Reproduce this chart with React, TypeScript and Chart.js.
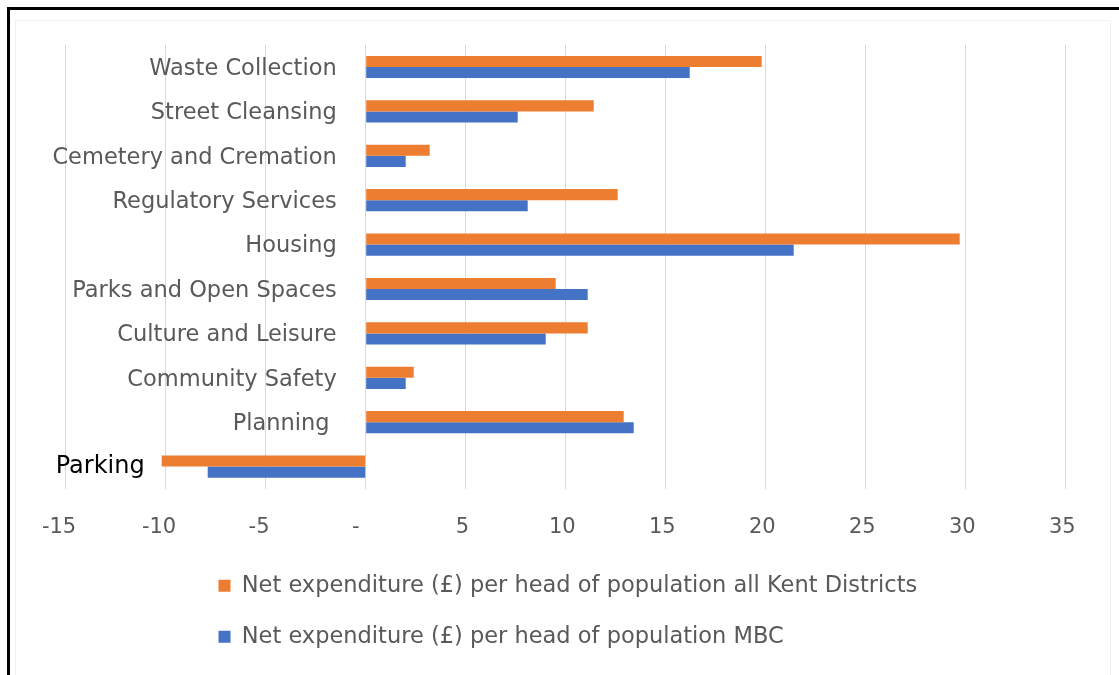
import React, { useEffect, useRef } from 'react';
import { Chart, registerables } from 'chart.js';

Chart.register(...registerables);

// ---- data ----
const categories = [
  'Waste Collection',
  'Street Cleansing',
  'Cemetery and Cremation',
  'Regulatory Services',
  'Housing',
  'Parks and Open Spaces',
  'Culture and Leisure',
  'Community Safety',
  'Planning ',
  'Parking',
];
const kentValues = [19.8, 11.4, 3.2, 12.6, 29.7, 9.5, 11.1, 2.4, 12.9, -10.2];
const mbcValues = [16.2, 7.6, 2.0, 8.1, 21.4, 11.1, 9.0, 2.0, 13.4, -7.9];
const seriesLabels = [
  'Net expenditure (£) per head of population all Kent Districts',
  'Net expenditure (£) per head of population MBC',
];
const xMin = -15;
const xMax = 35;
const xStep = 5;
const zeroTickLabel = '-';
const annotatedCategory = 'Parking';

// ---- styles ----
const FONT = '"DejaVu Sans", Verdana, sans-serif';
const GREY = '#595959';
const ORANGE = '#ED7D31';
const BLUE = '#4472C4';
const GRID = '#D9D9D9';

// accounting-style number format (trailing padding like Excel's "_-")
function formatTick(v: number): string {
  if (v === 0) return zeroTickLabel + '   ';
  if (v < 0) return String(v) + '  ';
  return String(v) + ' ';
}

const categoryLabelPlugin = {
  id: 'categoryLabels',
  afterDatasetsDraw(chart: any) {
    const { ctx, scales } = chart;
    const x = scales.x;
    const y = scales.y;
    ctx.save();
    ctx.textBaseline = 'middle';
    ctx.font = `22.5px ${FONT}`;
    ctx.fillStyle = GREY;
    ctx.textAlign = 'right';
    const xLabel = x.getPixelForValue(0) - 29;
    categories.forEach((c, i) => {
      if (c === annotatedCategory) return;
      ctx.fillText(c, xLabel, y.getPixelForValue(i) + 2);
    });
    // text box placed by the author for the negative category
    const idx = categories.indexOf(annotatedCategory);
    if (idx >= 0) {
      ctx.font = `24px ${FONT}`;
      ctx.fillStyle = '#000000';
      ctx.textAlign = 'left';
      ctx.fillText(annotatedCategory, x.getPixelForValue(xMin) - 10, y.getPixelForValue(idx));
    }
    ctx.restore();
  },
};

const legendPlacementPlugin = {
  id: 'legendPlacement',
  afterLayout(chart: any) {
    const lg = chart.legend;
    if (!lg) return;
    lg.left = 190;
    lg.top = 546;
  },
};

export default function App() {
  const ref = useRef<HTMLCanvasElement | null>(null);

  useEffect(() => {
    if (!ref.current) return;
    const chart = new Chart(ref.current, {
      type: 'bar',
      data: {
        labels: categories,
        datasets: [
          {
            label: seriesLabels[0],
            data: kentValues,
            backgroundColor: ORANGE,
            borderWidth: 0,
            categoryPercentage: 0.5,
            barPercentage: 1.0,
          },
          {
            label: seriesLabels[1],
            data: mbcValues,
            backgroundColor: BLUE,
            borderWidth: 0,
            categoryPercentage: 0.5,
            barPercentage: 1.0,
          },
        ],
      },
      options: {
        indexAxis: 'y',
        animation: false,
        responsive: true,
        maintainAspectRatio: false,
        layout: {
          padding: { left: 65.7, right: 53.3, top: 44.8, bottom: 0 },
        },
        scales: {
          x: {
            type: 'linear',
            min: xMin,
            max: xMax,
            ticks: {
              stepSize: xStep,
              color: GREY,
              font: { family: FONT, size: 21 },
              padding: 26.6,
              callback: (v: any) => formatTick(Number(v)),
            },
            grid: {
              color: GRID,
              lineWidth: 1,
              drawTicks: false,
            },
            border: { display: false },
            afterFit: (scale: any) => {
              scale.height = 74.2;
            },
          },
          y: {
            type: 'category',
            display: false,
          },
        },
        plugins: {
          legend: {
            position: 'bottom',
            align: 'start',
            labels: {
              color: GREY,
              font: { family: FONT, size: 22.5 },
              boxWidth: 12,
              boxHeight: 12,
              padding: 28.5,
            },
          },
          tooltip: { enabled: false },
        },
      },
      plugins: [categoryLabelPlugin, legendPlacementPlugin],
    });
    return () => chart.destroy();
  }, []);

  return (
    <div
      style={{
        position: 'absolute',
        left: 0,
        top: 0,
        width: 1119,
        height: 675,
        overflow: 'hidden',
        background: '#ffffff',
      }}
    >
      <div
        style={{
          position: 'absolute',
          left: 7,
          top: 7,
          width: 1200,
          height: 800,
          borderLeft: '3px solid #000',
          borderTop: '3px solid #000',
        }}
      />
      <div
        style={{
          position: 'absolute',
          left: 15,
          top: 20,
          width: 1094,
          height: 700,
          border: '1px solid #f0f0f0',
        }}
      />
      <div style={{ position: 'absolute', left: 0, top: 0, width: 1119, height: 675 }}>
        <canvas ref={ref} />
      </div>
    </div>
  );
}
